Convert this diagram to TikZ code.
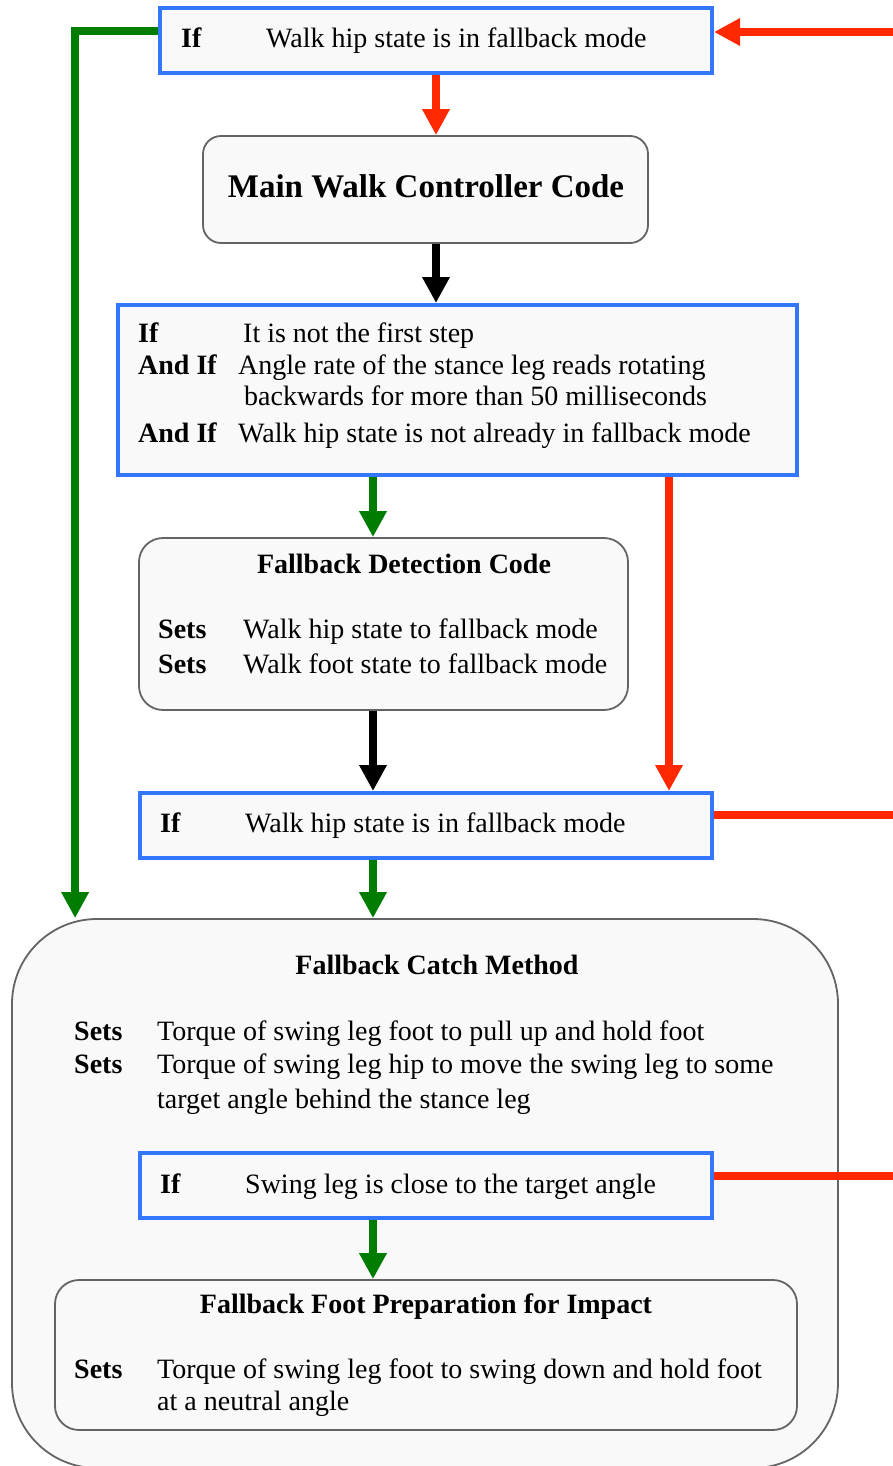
\documentclass[tikz,border=0pt]{standalone}
\usepackage{fontspec}
\setmainfont{Liberation Serif}
\usetikzlibrary{arrows.meta}

\definecolor{condblue}{RGB}{51,119,255}
\definecolor{flowred}{RGB}{255,40,0}
\definecolor{flowgreen}{RGB}{0,125,0}
\definecolor{boxgray}{RGB}{100,100,100}
\definecolor{boxfill}{RGB}{249,249,249}

\tikzset{
  condbox/.style={draw=condblue, line width=4pt, fill=boxfill, inner sep=0pt},
  codebox/.style={draw=boxgray, line width=1.8pt, fill=boxfill, inner sep=0pt,
    rounded corners=#1},
  codebox/.default=20pt,
  txt/.style={anchor=base west, inner sep=0pt, font=\fontsize{28}{32}\selectfont},
  keyword/.style={txt, font=\fontsize{28}{32}\selectfont\bfseries},
  boxtitle/.style={anchor=base, inner sep=0pt, font=\fontsize{28}{32}\selectfont\bfseries},
  flow/.style={line width=8pt, -{Triangle[width=26pt,length=26pt]}},
  flowline/.style={line width=8pt},
}

\begin{document}
\begin{tikzpicture}[x=1pt, y=-1pt]
  \useasboundingbox[fill=white] (0,0) rectangle (893,1466);

  \coordinate (colA) at (373,0);
  \coordinate (colB) at (436,0);
  \coordinate (colR) at (669,0);
  \coordinate (edgeR) at (893,0);
  \coordinate (loopIn) at (893,32);

  % boxes
  \node[condbox, minimum width=552pt, minimum height=65pt] (ifTop) at (436,40.5) {};
  \node[codebox=18pt, minimum width=445pt, minimum height=107pt] (main) at (425.5,189.5) {};
  \node[condbox, minimum width=679pt, minimum height=170pt] (cond) at (457.5,390) {};
  \node[codebox=24pt, minimum width=489pt, minimum height=172pt] (detect) at (383.5,624) {};
  \node[condbox, minimum width=572pt, minimum height=65pt] (ifMid) at (426,825.5) {};
  \node[codebox=85pt, minimum width=826pt, minimum height=549pt] (catch) at (425,1193.5) {};
  \node[condbox, minimum width=572pt, minimum height=65pt] (ifInner) at (426,1185.5) {};
  \node[codebox=24pt, minimum width=742pt, minimum height=150pt] (prep) at (426,1355) {};

  % texts
  \node[keyword] (ifTopKey) at (181,48) {If};
  \node[txt] (ifTopText) at (266,48) {Walk hip state is in fallback mode};

  \node[boxtitle, font=\fontsize{33}{38}\selectfont\bfseries] (mainTitle) at (426,197)
    {Main Walk Controller Code};

  \node[keyword] (condKeyA) at (138,342) {If};
  \node[txt] (condTextA) at (243,342) {It is not the first step};
  \node[keyword] (condKeyB) at (138,374) {And If};
  \node[txt] (condTextB) at (238,374) {Angle rate of the stance leg reads rotating};
  \node[txt] (condTextC) at (244,405) {backwards for more than 50 milliseconds};
  \node[keyword] (condKeyC) at (138,442) {And If};
  \node[txt] (condTextD) at (238,442) {Walk hip state is not already in fallback mode};

  \node[boxtitle] (detectTitle) at (404,573) {Fallback Detection Code};
  \node[keyword] (detectKeyA) at (158,638) {Sets};
  \node[txt] (detectTextA) at (243,638) {Walk hip state to fallback mode};
  \node[keyword] (detectKeyB) at (158,673) {Sets};
  \node[txt] (detectTextB) at (243,673) {Walk foot state to fallback mode};

  \node[keyword] (ifMidKey) at (160,832) {If};
  \node[txt] (ifMidText) at (245,832) {Walk hip state is in fallback mode};

  \node[boxtitle] (catchTitle) at (437,974) {Fallback Catch Method};
  \node[keyword] (catchKeyA) at (74,1040) {Sets};
  \node[txt] (catchTextA) at (157,1040) {Torque of swing leg foot to pull up and hold foot};
  \node[keyword] (catchKeyB) at (74,1073) {Sets};
  \node[txt] (catchTextB) at (157,1073) {Torque of swing leg hip to move the swing leg to some};
  \node[txt] (catchTextC) at (157,1108) {target angle behind the stance leg};

  \node[keyword] (ifInnerKey) at (160,1193) {If};
  \node[txt] (ifInnerText) at (245,1193) {Swing leg is close to the target angle};

  \node[boxtitle] (prepTitle) at (426,1313) {Fallback Foot Preparation for Impact};
  \node[keyword] (prepKey) at (74,1378) {Sets};
  \node[txt] (prepTextA) at (157,1378) {Torque of swing leg foot to swing down and hold foot};
  \node[txt] (prepTextB) at (157,1410) {at a neutral angle};

  % connectors
  \draw[flow, flowred] (loopIn) -- (loopIn -| ifTop.east);
  \draw[flow, flowgreen] ([yshift=9pt]ifTop.west) -| ([xshift=64pt]catch.north west);
  \draw[flow, flowred] (ifTop.south -| colB) -- (main.north -| colB);
  \draw[flow, black] (main.south -| colB) -- (cond.north -| colB);
  \draw[flow, flowgreen] (cond.south -| colA) -- (detect.north -| colA);
  \draw[flow, flowred] (cond.south -| colR) -- (ifMid.north -| colR);
  \draw[flow, black] (detect.south -| colA) -- (ifMid.north -| colA);
  \draw[flow, flowgreen] (ifMid.south -| colA) -- (catch.north -| colA);
  \draw[flow, flowgreen] (ifInner.south -| colA) -- (prep.north -| colA);
  \draw[flowline, flowred] ([yshift=11pt]ifMid.east) -- ([yshift=11pt]ifMid.east -| edgeR);
  \draw[flowline, flowred] ([yshift=10pt]ifInner.east) -- ([yshift=10pt]ifInner.east -| edgeR);

\end{tikzpicture}
\end{document}
